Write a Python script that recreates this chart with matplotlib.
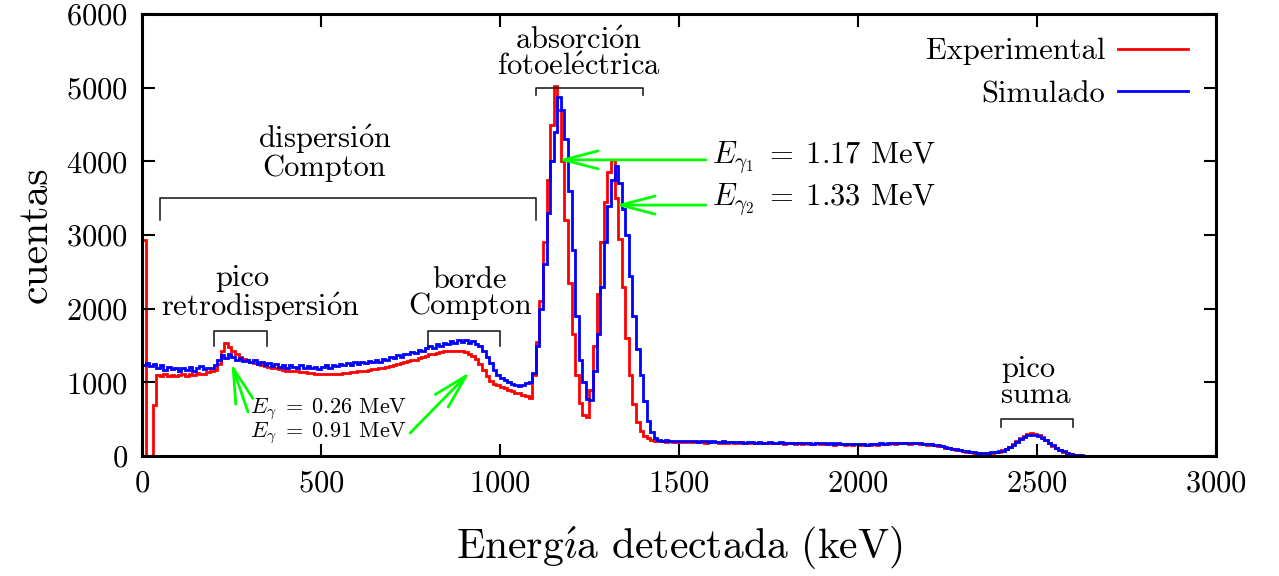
import numpy as np
import matplotlib
matplotlib.use('Agg')
import matplotlib.pyplot as plt

plt.rcParams['font.family'] = ['cmr10', 'DejaVu Serif']
plt.rcParams['mathtext.fontset'] = 'cm'
plt.rcParams['axes.formatter.use_mathtext'] = True

# espectro de 60Co, cuentas por canal de 10 keV (0 - 2700 keV)
bin_width = 10
experimental = [
    2930, 0, 0, 690, 1100, 1090, 1110, 1080, 1100, 1090,
    1100, 1110, 1090, 1120, 1100, 1130, 1120, 1110, 1140, 1150,
    1170, 1250, 1420, 1530, 1480, 1420, 1380, 1350, 1320, 1300,
    1280, 1260, 1250, 1230, 1220, 1210, 1200, 1190, 1180, 1170,
    1160, 1160, 1150, 1150, 1140, 1140, 1130, 1130, 1120, 1120,
    1120, 1110, 1120, 1110, 1120, 1120, 1130, 1130, 1140, 1140,
    1150, 1160, 1160, 1170, 1180, 1180, 1190, 1200, 1210, 1220,
    1240, 1250, 1260, 1270, 1290, 1300, 1310, 1330, 1340, 1360,
    1380, 1390, 1400, 1410, 1420, 1420, 1430, 1430, 1420, 1420,
    1410, 1390, 1360, 1320, 1250, 1170, 1090, 1020, 980, 960,
    940, 920, 900, 880, 860, 850, 830, 810, 790, 1100,
    1550, 2100, 2900, 3750, 4500, 5020, 4700, 4000, 3200, 2350,
    1650, 1100, 720, 560, 530, 900, 1500, 2200, 2900, 3450,
    3850, 4020, 3500, 2950, 2300, 1600, 1100, 700, 460, 340,
    270, 240, 220, 210, 200, 205, 195, 200, 190, 195,
    190, 195, 185, 190, 195, 185, 190, 180, 185, 190,
    185, 180, 190, 180, 185, 175, 180, 185, 175, 180,
    175, 180, 170, 175, 180, 170, 175, 170, 175, 165,
    170, 175, 165, 170, 165, 170, 160, 165, 170, 160,
    165, 160, 165, 155, 160, 165, 155, 160, 155, 160,
    155, 160, 150, 155, 160, 155, 165, 160, 165, 170,
    165, 175, 170, 175, 165, 170, 175, 165, 160, 155,
    160, 150, 140, 130, 115, 105, 95, 85, 75, 65,
    58, 52, 46, 42, 40, 38, 40, 45, 52, 60,
    75, 95, 125, 165, 205, 240, 270, 295, 310, 305,
    285, 255, 215, 175, 140, 105, 80, 58, 40, 28,
    18, 12, 7, 4, 3, 2, 1, 1, 0, 0,
]
simulado = [
    1240, 1260, 1220, 1250, 1190, 1230, 1170, 1210, 1180, 1200,
    1150, 1200, 1170, 1210, 1160, 1190, 1220, 1180, 1200, 1190,
    1230, 1310, 1370, 1330, 1390, 1340, 1310, 1330, 1290, 1300,
    1270, 1300, 1250, 1280, 1240, 1260, 1220, 1250, 1210, 1240,
    1200, 1230, 1210, 1190, 1230, 1200, 1220, 1190, 1210, 1180,
    1210, 1230, 1200, 1240, 1220, 1250, 1230, 1260, 1240, 1270,
    1250, 1280, 1260, 1290, 1270, 1300, 1280, 1320, 1300, 1340,
    1330, 1370, 1350, 1390, 1380, 1410, 1400, 1440, 1430, 1470,
    1490, 1470, 1520, 1500, 1540, 1520, 1560, 1540, 1570, 1550,
    1570, 1540, 1560, 1520, 1490, 1420, 1340, 1260, 1170, 1100,
    1060, 1030, 1010, 980, 960, 950, 970, 990, 1000, 1130,
    1500, 2000, 2600, 3300, 4000, 4400, 4870, 4700, 4300, 3600,
    2800, 1900, 1300, 1000, 780, 760, 1150, 1650, 2300, 2900,
    3400, 3750, 3930, 3700, 3350, 3000, 2450, 1900, 1450, 1100,
    750, 480, 320, 240, 215, 210, 215, 205, 210, 205,
    200, 210, 200, 205, 210, 195, 205, 200, 195, 205,
    195, 190, 200, 185, 195, 190, 185, 195, 180, 190,
    185, 180, 190, 180, 175, 185, 180, 175, 185, 175,
    180, 170, 175, 180, 170, 175, 170, 165, 175, 170,
    170, 165, 170, 160, 170, 165, 160, 165, 160, 165,
    160, 165, 155, 160, 165, 160, 170, 165, 170, 175,
    170, 180, 175, 180, 170, 175, 180, 170, 165, 160,
    160, 155, 145, 135, 120, 110, 100, 90, 80, 70,
    62, 55, 50, 45, 42, 40, 42, 48, 55, 62,
    72, 90, 118, 155, 195, 230, 258, 280, 292, 290,
    275, 250, 215, 180, 145, 112, 85, 62, 44, 30,
    20, 13, 8, 5, 3, 2, 1, 1, 0, 0,
]
edges = np.arange(len(experimental) + 1) * bin_width

# corchetes: (inicio, fin, altura, bajada) en keV / cuentas
brackets = [
    (50, 1100, 3500, 300),
    (1100, 1400, 5000, 100),
    (200, 350, 1700, 200),
    (800, 1000, 1700, 200),
    (2400, 2600, 500, 100),
]

# vocales acentuadas con mathtext para quedarse en Computer Modern
o_ac = r'$\acute{\mathrm{o}}$'
e_ac = r'$\acute{\mathrm{e}}$'
i_ac = r'$\acute{\mathrm{\imath}}$'

fig = plt.figure(figsize=(12.79, 5.76), dpi=100)
ax = fig.add_axes([0.111, 0.2083, 0.8397, 0.7674])

ax.stairs(experimental, edges, color='#ff0000', lw=2, baseline=None,
          label='Experimental')
ax.stairs(simulado, edges, color='#0000ff', lw=2, baseline=None,
          label='Simulado')

for x0, x1, y, d in brackets:
    ax.plot([x0, x0, x1, x1], [y - d, y, y, y - d], color='#222222', lw=1.2)

fs = 22
ax.text(1220, 5455, 'absorci' + o_ac + 'n\nfotoel' + e_ac + 'ctrica',
        fontsize=fs, ha='center', va='center', linespacing=0.95)
ax.text(510, 4125, 'dispersi' + o_ac + 'n\nCompton', fontsize=fs,
        ha='center', va='center', linespacing=0.95)
ax.text(279, 2415, 'pico', fontsize=fs, ha='center', va='center')
ax.text(332, 2022, 'retrodispersi' + o_ac + 'n', fontsize=fs,
        ha='center', va='center')
ax.text(916, 2212, 'borde\nCompton', fontsize=fs, ha='center',
        va='center', linespacing=0.95)
ax.text(2400, 1004, 'pico\nsuma', fontsize=fs, ha='left',
        va='center', linespacing=0.95)
ax.text(1592, 4043, r'$E_{\gamma_1}\;=\;1.17$ MeV', fontsize=fs,
        va='center')
ax.text(1592, 3473, r'$E_{\gamma_2}\;=\;1.33$ MeV', fontsize=fs,
        va='center')
ax.text(302, 638, r'$E_\gamma\;=\;0.26$ MeV', fontsize=16, va='center')
ax.text(302, 312, r'$E_\gamma\;=\;0.91$ MeV', fontsize=16, va='center')

arrow = dict(arrowstyle='->,head_length=0.5,head_width=0.13',
             mutation_scale=50, color='#00ff00', lw=2,
             shrinkA=0, shrinkB=0)
ax.annotate('', xy=(250, 1260), xytext=(296, 597), arrowprops=arrow)
ax.annotate('', xy=(916, 1140), xytext=(749, 312), arrowprops=arrow)
ax.annotate('', xy=(1162, 4020), xytext=(1575, 4020), arrowprops=arrow)
ax.annotate('', xy=(1321, 3406), xytext=(1575, 3406), arrowprops=arrow)

ax.set_xlim(0, 3000)
ax.set_ylim(0, 6000)
ax.set_xticks(np.arange(0, 3001, 500))
ax.set_yticks(np.arange(0, 6001, 1000))
ax.tick_params(direction='in', length=9, width=1.5, top=True, right=True,
               labelsize=22, pad=10)
for s in ax.spines.values():
    s.set_linewidth(2.2)

ax.set_xlabel('Energ' + i_ac + 'a detectada (keV)', fontsize=30,
              labelpad=20)
ax.set_ylabel('cuentas', fontsize=30, labelpad=8)

ax.legend(loc='upper right', bbox_to_anchor=(0.974, 0.946), frameon=False,
          markerfirst=False, fontsize=22, handlelength=2.3,
          handletextpad=0.42, labelspacing=0.5, borderpad=0,
          borderaxespad=0)

fig.savefig('out.png', dpi=100)
